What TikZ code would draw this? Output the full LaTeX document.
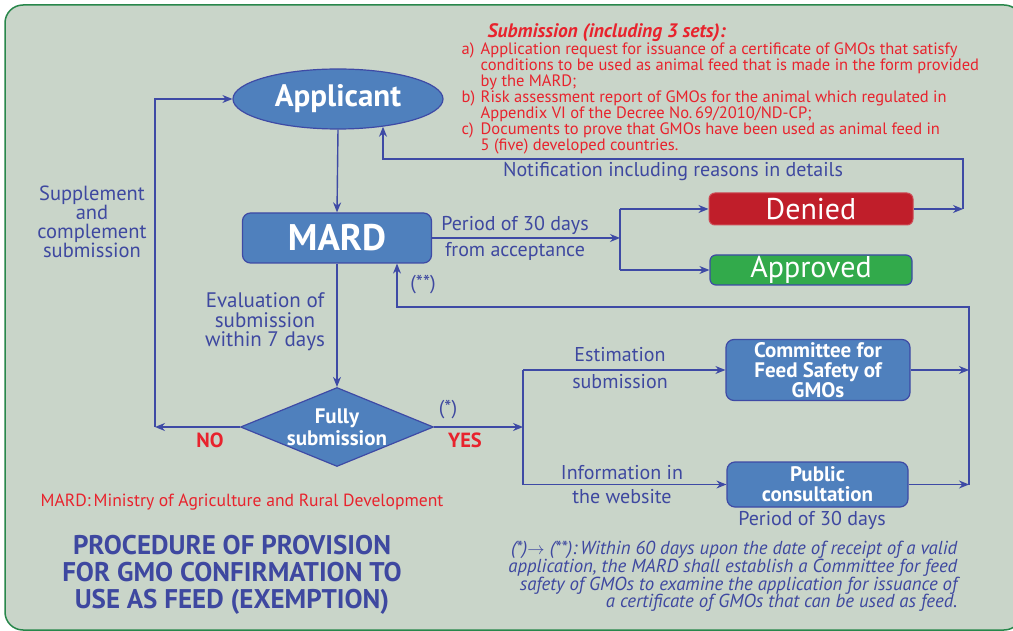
\documentclass[tikz,border=0pt]{standalone}
\usepackage{fontspec}
\setmainfont{PT Sans}
\usetikzlibrary{arrows.meta,shapes.geometric}
\definecolor{bg}{RGB}{201,213,201}
\definecolor{frame}{RGB}{40,135,75}
\definecolor{boxblue}{RGB}{79,128,189}
\definecolor{lineblue}{RGB}{62,74,165}
\definecolor{txtblue}{RGB}{62,72,160}
\definecolor{txtred}{RGB}{232,35,45}
\definecolor{deniedred}{RGB}{192,30,42}
\definecolor{okgreen}{RGB}{50,170,75}
\newcommand{\fs}[2]{\fontsize{#1}{#2}\selectfont}
\begin{document}
\begin{tikzpicture}[x=1pt,y=-1pt,line width=1.4pt,
  arr/.style={draw=lineblue,-{Stealth[length=10pt,width=8pt]}},
  ln/.style={draw=lineblue},
  bluebox/.style={rectangle,rounded corners=8pt,fill=boxblue,draw=lineblue,line width=1.2pt,text=white,inner sep=0pt,align=center},
  lbl/.style={text=txtblue,inner sep=0pt,align=center,font=\fs{20}{21}}
]
\useasboundingbox (0,0) rectangle (1013,631);
\fill[white] (0,0) rectangle (1013,631);
\draw[frame,fill=bg,line width=1.5pt,rounded corners=18pt] (5,5) rectangle (1022,630);

% nodes
\node[ellipse,fill=boxblue,draw=lineblue,line width=1.2pt,minimum width=210pt,minimum height=60pt,inner sep=0pt,text=white,font=\fs{31}{33}\bfseries] (app) at (338,99) {Applicant};
\node[bluebox,minimum width=189pt,minimum height=50pt,font=\fs{37}{38}\bfseries] (mard) at (337,238) {MARD};
\node[rectangle,rounded corners=6pt,fill=deniedred,draw=deniedred!80!white,line width=1pt,minimum width=204pt,minimum height=32pt,inner sep=0pt,text=white,font=\fs{30}{30}] (denied) at (811,209) {Denied};
\node[rectangle,rounded corners=6pt,fill=okgreen,draw=lineblue,line width=1.2pt,minimum width=202pt,minimum height=30pt,inner sep=0pt,text=white,font=\fs{30}{30}] (approved) at (811,270) {Approved};
\node[diamond,fill=boxblue,draw=lineblue,line width=1.2pt,minimum width=193pt,minimum height=79pt,aspect=2.4,inner sep=0pt,text=white,align=center,font=\fs{21}{22}\bfseries] (dia) at (337,427) {Fully\\submission};
\node[bluebox,minimum width=184pt,minimum height=61pt,font=\fs{21}{20}\bfseries] (com) at (818,370) {Committee for\\Feed Safety of\\GMOs};
\node[bluebox,minimum width=181pt,minimum height=45pt,font=\fs{21}{20}\bfseries] (pub) at (817.5,484.5) {Public\\consultation};

% coordinates
\coordinate (sp1) at (620,238);
\coordinate (nr) at (963,159);
\coordinate (nl) at (383,159);
\coordinate (nol) at (155,427);
\coordinate (ysp) at (523,427);
\coordinate (rc) at (969,307);
\coordinate (rb) at (397,307);

% connectors
\draw[arr] (app.south) -- (mard.north);
\draw[arr] (mard.east) -- (sp1);
\draw[ln] (sp1 |- denied) -- (sp1 |- approved);
\draw[arr] (sp1 |- denied) -- (denied.west);
\draw[arr] (sp1 |- approved) -- (approved.west);
\draw[arr] (denied.east) -- (nr |- denied);
\draw[arr] (nr |- denied) -- (nr) -- (nl) -- (nl |- app.-32);
\draw[arr] (mard.south) -- (dia.north);
\draw[arr] (dia.west) -- (nol);
\draw[arr] (nol) -- (nol |- app.west) -- (app.west);
\draw[arr] (dia.east) -- (ysp);
\draw[ln] (ysp |- com) -- (ysp |- pub);
\draw[arr] (ysp |- com) -- (com.west);
\draw[arr] (ysp |- pub) -- (pub.west);
\draw[arr] (com.east) -- (rc |- com);
\draw[arr] (pub.east) -- (rc |- pub);
\draw[arr] (rc |- pub) -- (rc) -- (rb) -- (rb |- mard.south);

% labels
\node[lbl] (l1) at (515,225) {Period of 30 days};
\node[lbl] (l2) at (515,251) {from acceptance};
\node[lbl] (l3) at (673,172) {Notification including reasons in details};
\node[lbl,font=\fs{20.5}{19}] (l4) at (92,222) {Supplement\\and\\complement\\submission};
\node[lbl,font=\fs{21}{19.5}] (l5) at (265,322) {Evaluation of\\submission\\within 7 days};
\node[lbl] (l6) at (423,285) {(**)};
\node[lbl] (l7) at (448,410) {(*)};
\node[text=txtred,inner sep=0pt,font=\fs{20.5}{21}\bfseries] (no) at (210,440) {NO};
\node[text=txtred,inner sep=0pt,font=\fs{20.5}{21}\bfseries] (yes) at (465,440) {YES};
\node[lbl] (l8) at (620,355) {Estimation};
\node[lbl] (l9) at (620,382) {submission};
\node[lbl] (l10) at (622,473) {Information in};
\node[lbl] (l11) at (622,497) {the website};
\node[lbl] (l12) at (812,520) {Period of 30 days};

\node[anchor=west,text=txtred,inner sep=0pt,font=\fs{17.6}{18}] (foot) at (40,502) {MARD:\,Ministry of Agriculture and Rural Development};
\node[text=txtblue,inner sep=0pt,align=center,font=\fs{27}{27}\bfseries] (title) at (232,575) {PROCEDURE OF PROVISION\\FOR GMO CONFIRMATION TO\\USE AS FEED (EXEMPTION)};
\node[anchor=north east,text=txtblue,inner sep=0pt,align=right,font=\fs{18.8}{17.5}\itshape] (note) at (958,540) {(*)$\rightarrow$ (**):\,Within 60 days upon the date of receipt of a valid\\application, the MARD shall establish a Committee for feed\\safety of GMOs to examine the application for issuance of\\a certificate of GMOs that can be used as feed.};

\node[anchor=north west,text=txtred,inner sep=0pt,align=left,font=\fs{16.5}{16}] (sub) at (461,23) {%
\hspace*{26pt}{\fs{19.5}{16}\bfseries\itshape Submission (including 3 sets):}\\
\makebox[19pt][l]{a)}Application request for issuance of a certificate of GMOs that satisfy\\
\hspace*{19pt}conditions to be used as animal feed that is made in the form provided\\
\hspace*{19pt}by the MARD;\\
\makebox[19pt][l]{b)}Risk assessment report of GMOs for the animal which regulated in\\
\hspace*{19pt}Appendix VI of the Decree No.\,69/2010/ND-CP;\\
\makebox[19pt][l]{c)}Documents to prove that GMOs have been used as animal feed in\\
\hspace*{19pt}5 (five) developed countries.};
\end{tikzpicture}
\end{document}
